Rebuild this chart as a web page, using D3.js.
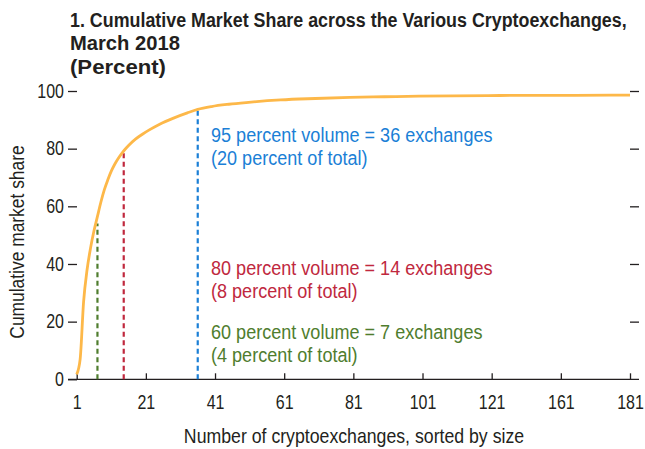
<!DOCTYPE html>
<html><head><meta charset="utf-8">
<script src="https://cdn.jsdelivr.net/npm/d3@7"></script>
<style>
html,body{margin:0;padding:0;background:#fff;}
text{font-family:"Liberation Sans",Arial,sans-serif;}
</style></head>
<body><svg id="c" width="645" height="449"></svg>
<script>
const titleLines = ["1. Cumulative Market Share across the Various Cryptoexchanges,", "March 2018", "(Percent)"];
const exchanges = [1,2,3,4,5,6,7,8,9,10,11,12,13,14,15,16,18,20,22,25,29,33,36,40,45,50,60,70,80,90,100,110,120,130,145,161];
const share =     [1.7,7,27,38,45.5,51.5,56.5,61.5,65.8,69.2,72.2,74.6,76.6,78.3,79.8,81.1,83.3,85,86.5,88.5,90.6,92.4,93.6,94.6,95.4,96,96.9,97.4,97.8,98,98.2,98.3,98.4,98.5,98.5,98.6];
const xTickValues = [1,21,41,61,81,101,121,141,161];
const xTickLabels = ["1","21","41","61","81","101","121","161","181"];
const yTickValues = [0,20,40,60,80,100];
const markerX = [7,14.6,36];
const markerTop = [54,79.5,94];
const markerColors = ["#4f7d2e","#c0283e","#1b7fd6"];
const annotations = [
  ["95 percent volume = 36 exchanges","(20 percent of total)"],
  ["80 percent volume = 14 exchanges","(8 percent of total)"],
  ["60 percent volume = 7 exchanges","(4 percent of total)"]
];
const annotationColors = ["#1b7fd6","#c0283e","#4f7d2e"];
const annotationY = [142,275,339];

// horizontally condense text about its anchor (reference uses a condensed typeface)
function condense(sel, k){
  sel.each(function(){
    const t = d3.select(this);
    const ax = +t.attr("x") || 0, ay = +t.attr("y") || 0;
    const prev = t.attr("transform") || "";
    t.attr("transform", `${prev} translate(${ax},${ay}) scale(${k},1) translate(${-ax},${-ay})`);
  });
}
function condenseTo(sel, widths){
  sel.each(function(d,i){
    const w = this.getComputedTextLength();
    condense(d3.select(this), widths[i]/w);
  });
}

const svg = d3.select("#c");
const x = d3.scaleLinear().domain([1,161]).range([76.7,630]);
const y = d3.scaleLinear().domain([0,100]).range([379.3,91]);

// title
const titleWidths = [557,110,96];
const tt = svg.append("g").selectAll("text").data(titleLines).join("text")
  .attr("x",70).attr("y",(d,i)=>27+i*23.5)
  .attr("font-size",21).attr("font-weight","bold").attr("fill","#231f20")
  .text(d=>d);
condenseTo(tt, titleWidths);

// x axis
const xAxis = d3.axisBottom(x).tickValues(xTickValues).tickSize(-6).tickSizeOuter(0)
  .tickFormat((d,i)=>xTickLabels[i]);
const gx = svg.append("g").attr("transform",`translate(0,${y(0)})`).call(xAxis);
gx.select(".domain").remove();
gx.append("line").attr("x1",68).attr("x2",639).attr("stroke","#231f20").attr("stroke-width",1.3);
gx.selectAll(".tick line").attr("stroke","#231f20").attr("stroke-width",1.3);
gx.selectAll(".tick text").attr("font-size",19.5).attr("fill","#231f20").attr("y",30).attr("dy",0)
  .attr("font-family","Liberation Sans, Arial, sans-serif");
condense(gx.selectAll(".tick text"),0.82);

// y axis left
const yAxis = d3.axisLeft(y).tickValues(yTickValues).tickSize(9).tickPadding(4).tickSizeOuter(0);
const gy = svg.append("g").attr("transform",`translate(77,0)`).call(yAxis);
gy.select(".domain").remove();
gy.selectAll(".tick line").attr("stroke","#231f20").attr("stroke-width",1.3);
gy.selectAll(".tick text").attr("font-size",19.5).attr("fill","#231f20")
  .attr("font-family","Liberation Sans, Arial, sans-serif");
condense(gy.selectAll(".tick text"),0.82);

// y axis right ticks
const yAxisR = d3.axisRight(y).tickValues(yTickValues.filter(v=>v>0)).tickSize(9).tickFormat("").tickSizeOuter(0);
const gyr = svg.append("g").attr("transform",`translate(630,0)`).call(yAxisR);
gyr.select(".domain").remove();
gyr.selectAll(".tick line").attr("stroke","#231f20").attr("stroke-width",1.3);

// axis titles
const xt = svg.append("text").attr("x",354).attr("y",443).attr("text-anchor","middle")
  .attr("font-size",20).attr("fill","#231f20").text("Number of cryptoexchanges, sorted by size");
condense(xt,0.885);
const yt = svg.append("text").attr("transform","translate(24,242) rotate(-90)").attr("text-anchor","middle")
  .attr("font-size",20).attr("fill","#231f20").text("Cumulative market share");
condense(yt,0.87);

// marker lines
svg.append("g").selectAll("line").data(markerX).join("line")
  .attr("x1",d=>x(d)).attr("x2",d=>x(d))
  .attr("y1",y(0)).attr("y2",(d,i)=>y(markerTop[i]))
  .attr("stroke",(d,i)=>markerColors[i]).attr("stroke-width",2.2)
  .attr("stroke-dasharray","5,3.5");

// curve
const pts = exchanges.map((e,i)=>[e,share[i]]);
svg.append("path").datum(pts)
  .attr("fill","none").attr("stroke","#fdb849").attr("stroke-width",2.8)
  .attr("d",d3.line().x(d=>x(d[0])).y(d=>y(d[1])).curve(d3.curveMonotoneX));

// annotations
annotations.forEach((lines,k)=>{
  const t = svg.append("g").selectAll("text").data(lines).join("text")
    .attr("x",211).attr("y",(d,i)=>annotationY[k]+i*23)
    .attr("font-size",21).attr("fill",annotationColors[k]).text(d=>d);
  condense(t,0.86);
});
</script></body></html>
